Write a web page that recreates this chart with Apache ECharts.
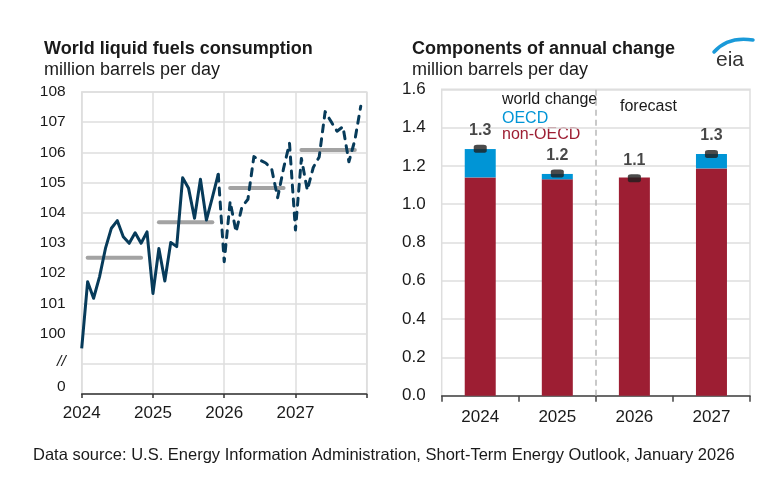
<!DOCTYPE html>
<html>
<head>
<meta charset="utf-8">
<script src="https://cdn.jsdelivr.net/npm/echarts@6/dist/echarts.min.js"></script>
<style>
html,body{margin:0;padding:0;background:#fff;}
#c{width:782px;height:487px;}
</style>
</head>
<body>
<div id="c"></div>
<script>
// ---- data ----
const histValues = [ // Jan 2024 - Dec 2025
  99.51, 101.72, 101.17, 101.88, 102.82, 103.49, 103.74, 103.21, 102.99, 103.34, 102.99, 103.37,
  101.33, 102.82, 101.74, 103.02, 102.88, 105.16, 104.81, 103.82, 105.11, 103.76, 104.50, 105.28
];
const forecastValues = [ // Jan 2026 - Dec 2027
  102.38, 104.37, 103.37, 104.20, 104.45, 105.86, 105.75, 105.65, 105.45, 104.50, 105.47, 106.30,
  103.43, 105.80, 104.75, 105.50, 105.85, 107.35, 107.02, 106.70, 106.85, 105.69, 106.40, 107.53
];
const annualYears = [2024, 2025, 2026, 2027];
const annualAvg = [102.51, 103.69, 104.82, 106.08];
const xTickLabels = ['2024', '2025', '2026', '2027'];

const categories = ['2024', '2025', '2026', '2027'];
const nonOECD = [1.140, 1.130, 1.140, 1.187];
const oecd = [0.148, 0.028, -0.005, 0.075];
const worldChange = [1.290, 1.160, 1.135, 1.262];
const worldLabels = ['1.3', '1.2', '1.1', '1.3'];
const forecastStart = 2; // boundary index between 2025 and 2026

// ---- build ----
const FONT = "'Liberation Sans', Arial, sans-serif";
const navy = '#073b5a';
const gridColor = '#dedede';

const histData = histValues.map((v, i) => [2024 + i / 12, v]);
const fcstData = [[2024 + 23 / 12, histValues[23]]].concat(
  forecastValues.map((v, i) => [2026 + i / 12, v]));

const avgSeries = annualYears.map((y, k) => ({
  type: 'line', xAxisIndex: 0, yAxisIndex: 0, symbol: 'none', silent: true, z: 2,
  lineStyle: { color: '#a3a3a3', width: 4, cap: 'round' },
  data: [[y + 1 / 12, annualAvg[k]], [y + 10 / 12, annualAvg[k]]]
}));

const chart = echarts.init(document.getElementById('c'), null, { renderer: 'canvas' });

const titleStyle = (bold, size) => ({ fontFamily: FONT, fontSize: size, fontWeight: bold ? 'bold' : 'normal', color: '#1a1a1a' });

const option = {
  animation: false,
  backgroundColor: '#fff',
  textStyle: { fontFamily: FONT },
  grid: [
    { left: 81.7, right: 415.3, top: 92, bottom: 93, show: true, borderColor: gridColor, borderWidth: 1.5 },
    { left: 441.7, right: 32, top: 89.3, bottom: 91.3, show: true, borderColor: gridColor, borderWidth: 1.5 }
  ],
  title: [
    { text: 'World liquid fuels consumption', left: 44, top: 40, padding: 0, textStyle: titleStyle(true, 18) },
    { text: 'million barrels per day', left: 44, top: 61, padding: 0, textStyle: titleStyle(false, 18) },
    { text: 'Components of annual change', left: 412, top: 40, padding: 0, textStyle: titleStyle(true, 18) },
    { text: 'million barrels per day', left: 412, top: 61, padding: 0, textStyle: titleStyle(false, 18) },
    { text: 'Data source: U.S. Energy Information Administration, Short-Term Energy Outlook, January 2026',
      left: 33, top: 447, padding: 0, textStyle: titleStyle(false, 16.5) }
  ],
  xAxis: [
    { type: 'value', gridIndex: 0, min: 2024, max: 2028, interval: 1,
      axisLine: { show: true, lineStyle: { color: '#333', width: 1.5 } },
      axisTick: { show: true, length: 4, lineStyle: { color: '#333', width: 1.5 } },
      axisLabel: { fontSize: 17, color: '#1a1a1a', margin: 11,
        formatter: v => (v >= 2024 && v <= 2027) ? xTickLabels[Math.round(v) - 2024] : '' },
      splitLine: { show: true, lineStyle: { color: gridColor, width: 1.5 } } },
    { type: 'category', gridIndex: 1, data: categories,
      axisLine: { show: true, lineStyle: { color: '#444', width: 1.5 } },
      axisTick: { show: true, length: 6, lineStyle: { color: '#444', width: 1.5 } },
      axisLabel: { fontSize: 17, color: '#1a1a1a', margin: 13 },
      splitLine: { show: false } },
    { type: 'value', gridIndex: 1, min: 0, max: categories.length, show: false }
  ],
  yAxis: [
    { type: 'value', gridIndex: 0, min: 98, max: 108, interval: 1,
      axisLine: { show: false }, axisTick: { show: false },
      axisLabel: { fontSize: 15.5, color: '#1a1a1a', margin: 16,
        formatter: v => v === 98 ? '{z|0}' : (v === 99 ? '{s|//}' : String(v)),
        rich: { z: { fontSize: 15.5, color: '#1a1a1a', padding: [0, 0, 15, 0] },
                s: { fontSize: 15.5, color: '#1a1a1a', fontStyle: 'italic', padding: [0, 0, 5, 0] } } },
      splitLine: { show: true, lineStyle: { color: gridColor, width: 1.5 } } },
    { type: 'value', gridIndex: 1, min: 0, max: 1.6, interval: 0.2,
      axisLine: { show: false }, axisTick: { show: false },
      axisLabel: { fontSize: 17, color: '#1a1a1a', margin: 16, formatter: v => v.toFixed(1) },
      splitLine: { show: true, lineStyle: { color: gridColor, width: 1.5 } } }
  ],
  series: avgSeries.concat([
    { type: 'line', name: 'history', xAxisIndex: 0, yAxisIndex: 0, symbol: 'none', z: 3,
      lineStyle: { color: navy, width: 3, join: 'round' }, data: histData },
    { type: 'line', name: 'forecast', xAxisIndex: 0, yAxisIndex: 0, symbol: 'none', z: 3,
      lineStyle: { color: navy, width: 3, type: [7, 7], cap: 'round', join: 'round' }, data: fcstData },
    { type: 'bar', name: 'non-OECD', xAxisIndex: 1, yAxisIndex: 1, stack: 'tot', barWidth: 31,
      itemStyle: { color: '#9d1e33' }, data: nonOECD },
    { type: 'bar', name: 'OECD', xAxisIndex: 1, yAxisIndex: 1, stack: 'tot', barWidth: 31,
      itemStyle: { color: '#0095d6' }, data: oecd },
    { type: 'scatter', name: 'world change', xAxisIndex: 1, yAxisIndex: 1, z: 5,
      symbol: 'roundRect', symbolSize: [13, 8], itemStyle: { color: '#1e1e1e' },
      label: { show: true, position: 'top', distance: 6, fontFamily: FONT, fontSize: 16,
        fontWeight: 'bold', color: '#1a1a1a', formatter: p => worldLabels[p.dataIndex] },
      data: worldChange },
    { type: 'line', name: 'forecast divider', xAxisIndex: 2, yAxisIndex: 1, symbol: 'none', silent: true,
      data: [[forecastStart, 0]], lineStyle: { width: 0 },
      markLine: { silent: true, symbol: 'none', label: { show: false },
        lineStyle: { color: '#b8b8b8', width: 1.5, type: [6, 4] },
        data: [{ xAxis: forecastStart }] } }
  ]),
  graphic: [
    { type: 'text', left: 502, top: 92, style: { text: 'world change', fontFamily: FONT, fontSize: 16, fill: '#1a1a1a' } },
    { type: 'text', left: 502, top: 111, style: { text: 'OECD', fontFamily: FONT, fontSize: 16, fill: '#0095d6' } },
    { type: 'text', left: 502, top: 127, style: { text: 'non-OECD', fontFamily: FONT, fontSize: 16, fill: '#9d1e33' } },
    { type: 'text', left: 620, top: 99, style: { text: 'forecast', fontFamily: FONT, fontSize: 16, fill: '#1a1a1a' } },
    { type: 'text', left: 716, top: 50, style: { text: 'eia', fontFamily: FONT, fontSize: 21, fill: '#333' } },
    { type: 'bezierCurve', shape: { x1: 714, y1: 52, x2: 753, y2: 40, cpx1: 728, cpy1: 36 },
      style: { stroke: '#1a9ad9', lineWidth: 3.5, fill: null, lineCap: 'round' } }
  ]
};
chart.setOption(option);
</script>
</body>
</html>
